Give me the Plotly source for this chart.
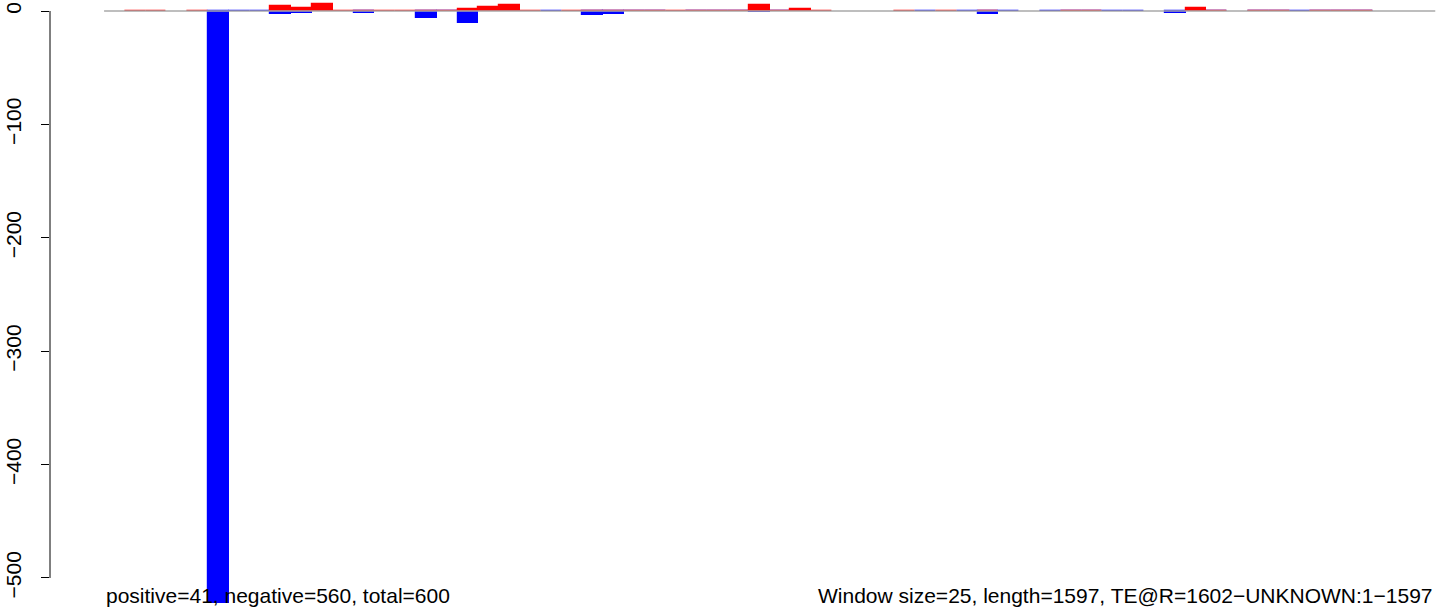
import plotly.graph_objects as go

# window index (0-based), 64 windows of 25 bp over length 1597
positive = [None, 0, 0, None, 0, None, None, None, 4, 2.5,
            6, 0, 0, 0, 0, 0, 0, 2, 3.5, 5,
            0, None, 0, 0, 0, 0, 0, 0, 0, 0,
            0, 5, 0, 1.5, 0, None, None, None, 0, None,
            0, None, 0, None, None, None, 0, 0, None, None,
            None, None, 2.5, 0, None, 0, 0, None, 0, 0,
            0, None, None, None]
negative = [None, None, None, None, None, -522, 0, 0, -3, -1.5,
            None, None, -1.5, None, None, -6, 0, -10.5, None, None,
            None, 0, None, -3.5, -2.5, 0, 0, None, 0, 0,
            0, -1, 0, 0, None, None, None, None, None, 0,
            None, 0, -2.5, 0, None, 0, 0, 0, 0, 0,
            None, -2, None, 0, None, 0, 0, 0, 0, 0,
            0, None, None, None]
windows = list(range(len(positive)))
y_ticks = [0, -100, -200, -300, -400, -500]
y_tick_text = ["0", "\u2212100", "\u2212200", "\u2212300", "\u2212400", "\u2212500"]
left_note = "positive=41, negative=560, total=600"
right_note = "Window size=25, length=1597, TE@R=1602\u2212UNKNOWN:1\u22121597"

fig = go.Figure()
fig.add_trace(go.Scatter(x=[windows[0] - 0.5, windows[-1] + 0.5], y=[0, 0], mode="lines",
                         line=dict(color="#A8A8A8", width=1.5), hoverinfo="skip", showlegend=False))
fig.add_trace(go.Bar(x=windows, y=negative, width=1, marker=dict(color="#0000FF", line=dict(color="#0000FF", width=1.2)),
                     showlegend=False))
fig.add_trace(go.Bar(x=windows, y=positive, width=1, marker=dict(color="#FF0000", line=dict(color="#FF0000", width=1.2)),
                     showlegend=False))

fig.add_shape(type="line", xref="paper", yref="y", x0=0, x1=0, y0=y_ticks[0], y1=y_ticks[-1],
              line=dict(color="black", width=1))

fig.add_annotation(text=left_note, xref="x", yref="paper", x=windows[0] - 0.5, y=0.029,
                   xanchor="left", yanchor="middle", showarrow=False, font=dict(size=21, color="black"))
fig.add_annotation(text=right_note, xref="x", yref="paper", x=windows[-1] + 0.5, y=0.029,
                   xanchor="right", yanchor="middle", showarrow=False, font=dict(size=21, color="black"))

fig.update_layout(
    width=1444, height=613,
    margin=dict(l=50, r=0, t=0, b=0, autoexpand=False),
    paper_bgcolor="white", plot_bgcolor="white",
    barmode="overlay", bargap=0,
    font=dict(family="Liberation Sans, Arial, sans-serif", size=21, color="black"),
    xaxis=dict(range=[-3.1, 63.92], visible=False, showgrid=False, zeroline=False, automargin=False),
    yaxis=dict(range=[-530.9, 9.7], tickvals=y_ticks, ticktext=y_tick_text, tickangle=-90,
               ticks="outside", ticklen=8, tickcolor="black", showline=False, showgrid=False,
               zeroline=False, ticklabelstandoff=12, automargin=False),
)

fig.write_html("out.html", config={"displayModeBar": False},
               post_script="document.body.style.margin='0';")
